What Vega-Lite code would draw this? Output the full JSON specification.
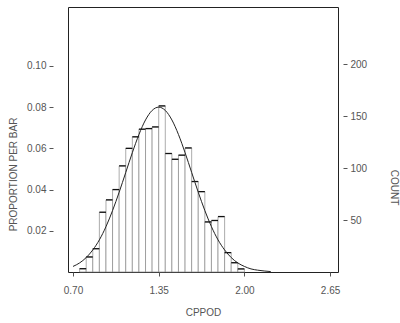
{
  "$schema": "https://vega.github.io/schema/vega-lite/v6.json",
  "width": 270,
  "height": 265,
  "autosize": {"type": "none"},
  "padding": {"left": 68, "top": 7, "right": 62, "bottom": 51},
  "background": "white",
  "config": {
    "view": {"stroke": "#222", "strokeWidth": 1},
    "font": "Liberation Sans",
    "axis": {"labelFont": "Liberation Sans", "titleFont": "Liberation Sans", "labelFontSize": 10, "titleFontSize": 10, "labelColor": "#555", "titleColor": "#555", "titleFontWeight": "normal", "tickColor": "#555", "grid": false, "domain": false, "tickSize": 4}
  },
  "datasets": {
    "bins": [
      {"x0": 0.75, "x1": 0.80, "p": 0.0016, "count": 3},
      {"x0": 0.80, "x1": 0.85, "p": 0.0073, "count": 14},
      {"x0": 0.85, "x1": 0.90, "p": 0.0113, "count": 22},
      {"x0": 0.90, "x1": 0.95, "p": 0.0290, "count": 58},
      {"x0": 0.95, "x1": 1.00, "p": 0.0350, "count": 69},
      {"x0": 1.00, "x1": 1.05, "p": 0.0400, "count": 79},
      {"x0": 1.05, "x1": 1.10, "p": 0.0515, "count": 102},
      {"x0": 1.10, "x1": 1.15, "p": 0.0600, "count": 119},
      {"x0": 1.15, "x1": 1.20, "p": 0.0656, "count": 130},
      {"x0": 1.20, "x1": 1.25, "p": 0.0693, "count": 137},
      {"x0": 1.25, "x1": 1.30, "p": 0.0696, "count": 138},
      {"x0": 1.30, "x1": 1.35, "p": 0.0704, "count": 140},
      {"x0": 1.35, "x1": 1.40, "p": 0.0806, "count": 160},
      {"x0": 1.40, "x1": 1.45, "p": 0.0575, "count": 114},
      {"x0": 1.45, "x1": 1.50, "p": 0.0547, "count": 108},
      {"x0": 1.50, "x1": 1.55, "p": 0.0567, "count": 112},
      {"x0": 1.55, "x1": 1.60, "p": 0.0602, "count": 119},
      {"x0": 1.60, "x1": 1.65, "p": 0.0439, "count": 87},
      {"x0": 1.65, "x1": 1.70, "p": 0.0390, "count": 77},
      {"x0": 1.70, "x1": 1.75, "p": 0.0243, "count": 48},
      {"x0": 1.75, "x1": 1.80, "p": 0.0250, "count": 50},
      {"x0": 1.80, "x1": 1.85, "p": 0.0269, "count": 53},
      {"x0": 1.85, "x1": 1.90, "p": 0.0094, "count": 19},
      {"x0": 1.90, "x1": 1.95, "p": 0.0045, "count": 9},
      {"x0": 1.95, "x1": 2.00, "p": 0.0015, "count": 3}
    ],
    "curve": [
      {"cx": 0.70, "cy": 0.0027},
      {"cx": 0.75, "cy": 0.0044},
      {"cx": 0.80, "cy": 0.0070},
      {"cx": 0.85, "cy": 0.0107},
      {"cx": 0.90, "cy": 0.0156},
      {"cx": 0.95, "cy": 0.0220},
      {"cx": 1.00, "cy": 0.0298},
      {"cx": 1.05, "cy": 0.0387},
      {"cx": 1.10, "cy": 0.0483},
      {"cx": 1.15, "cy": 0.0579},
      {"cx": 1.20, "cy": 0.0667},
      {"cx": 1.25, "cy": 0.0738},
      {"cx": 1.30, "cy": 0.0784},
      {"cx": 1.35, "cy": 0.0800},
      {"cx": 1.40, "cy": 0.0784},
      {"cx": 1.45, "cy": 0.0738},
      {"cx": 1.50, "cy": 0.0667},
      {"cx": 1.55, "cy": 0.0579},
      {"cx": 1.60, "cy": 0.0483},
      {"cx": 1.65, "cy": 0.0387},
      {"cx": 1.70, "cy": 0.0298},
      {"cx": 1.75, "cy": 0.0220},
      {"cx": 1.80, "cy": 0.0156},
      {"cx": 1.85, "cy": 0.0107},
      {"cx": 1.90, "cy": 0.0070},
      {"cx": 1.95, "cy": 0.0044},
      {"cx": 2.00, "cy": 0.0027},
      {"cx": 2.05, "cy": 0.0015},
      {"cx": 2.10, "cy": 0.0009},
      {"cx": 2.15, "cy": 0.0005},
      {"cx": 2.20, "cy": 0.0002}
    ]
  },
  "layer": [
    {
      "layer": [
        {
          "data": {"name": "bins"},
          "mark": {"type": "rect", "fill": "white", "stroke": "#888", "strokeWidth": 0.7},
          "encoding": {
            "x": {"field": "x0", "type": "quantitative", "scale": {"domain": [0.662, 2.71], "nice": false, "zero": false}, "axis": {"values": [0.70, 1.35, 2.00, 2.65], "format": ".2f", "title": "CPPOD", "labelPadding": 9, "titlePadding": 12}},
            "x2": {"field": "x1"},
            "y": {"field": "p", "type": "quantitative", "scale": {"domain": [0, 0.1286], "nice": false}, "axis": {"orient": "left", "values": [0.02, 0.04, 0.06, 0.08, 0.10], "format": ".2f", "title": "PROPORTION PER BAR", "offset": 15, "labelPadding": 3, "titleY": 167, "titlePadding": 8}},
            "y2": {"datum": 0}
          }
        },
        {
          "data": {"name": "bins"},
          "mark": {"type": "rule", "stroke": "#111", "strokeWidth": 1.3},
          "encoding": {
            "x": {"field": "x0", "type": "quantitative"},
            "x2": {"field": "x1"},
            "y": {"field": "p", "type": "quantitative"}
          }
        },
        {
          "data": {"name": "curve"},
          "mark": {"type": "line", "stroke": "#222", "strokeWidth": 1, "interpolate": "monotone"},
          "encoding": {
            "x": {"field": "cx", "type": "quantitative"},
            "y": {"field": "cy", "type": "quantitative"}
          }
        }
      ]
    },
    {
      "data": {"name": "bins"},
      "mark": {"type": "point", "opacity": 0},
      "encoding": {
        "x": {"field": "x0", "type": "quantitative"},
        "y": {"field": "count", "type": "quantitative", "scale": {"domain": [0, 255], "nice": false}, "axis": {"orient": "right", "values": [50, 100, 150, 200], "title": "COUNT", "offset": 5, "labelPadding": 3, "titleAngle": 90, "titlePadding": 22, "titleY": 180}}
      }
    }
  ],
  "resolve": {"scale": {"y": "independent"}}
}
